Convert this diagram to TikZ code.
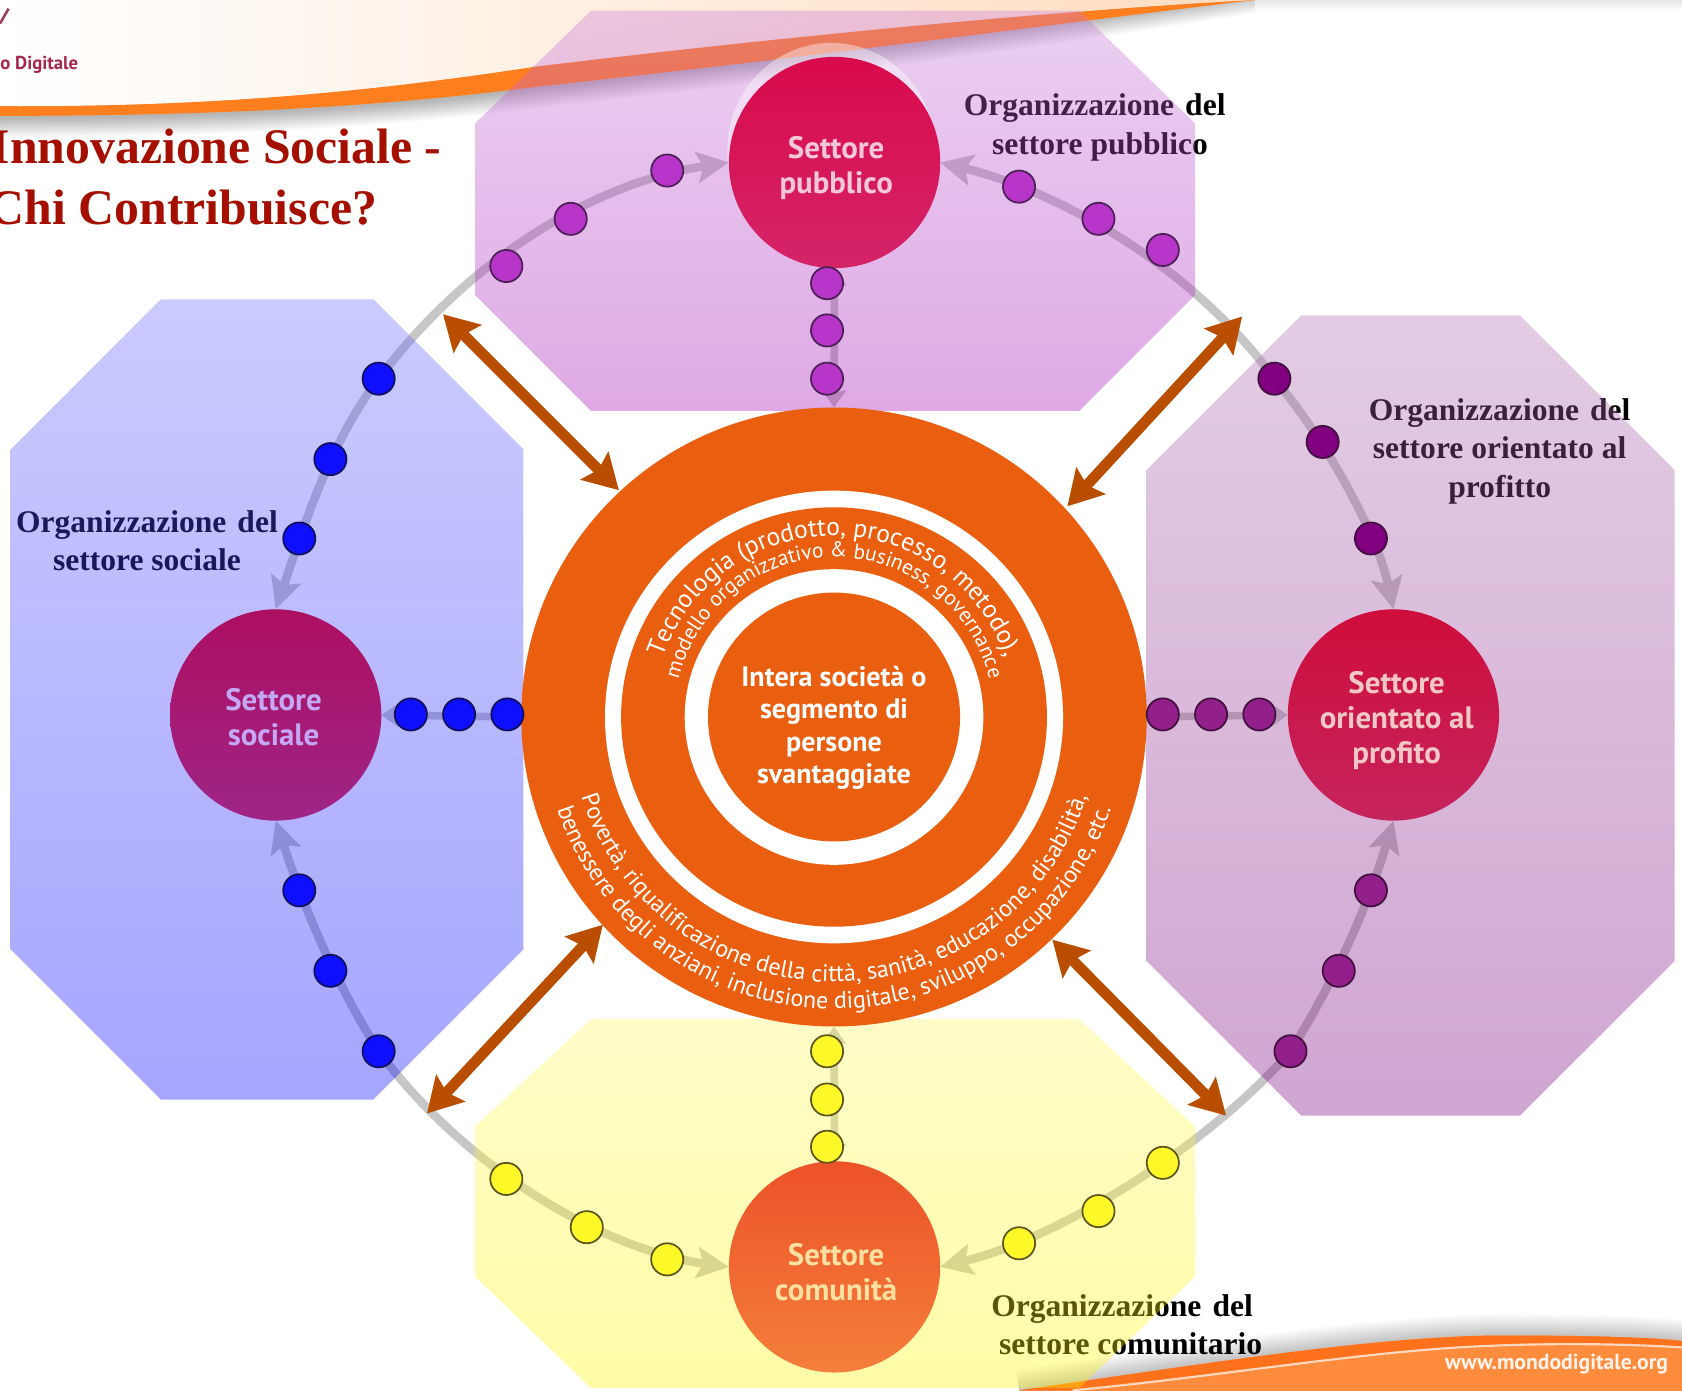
\documentclass[tikz,border=0pt]{standalone}
\usepackage{fontspec}
\setmainfont{Liberation Serif}
\setsansfont{PT Sans}
\usetikzlibrary{arrows.meta,decorations.text,shapes.geometric}
\pgfdeclarelayer{back}
\pgfdeclarelayer{mid}
\pgfsetlayers{back,mid,main}
\definecolor{ringorange}{HTML}{EA5F0F}
\definecolor{swoosh}{HTML}{FF7F1E}
\definecolor{swooshb}{HTML}{FF8C3C}
\definecolor{ringgrey}{HTML}{C6C6C6}
\definecolor{brownarrow}{HTML}{BA4E00}
\definecolor{titlered}{HTML}{A50F00}
\definecolor{peach}{HTML}{FFDCC0}
\definecolor{logotext}{HTML}{A5264E}
\definecolor{puTop}{HTML}{C878D9}\definecolor{puBot}{HTML}{A309B7}
\definecolor{blTop}{HTML}{6A6AFF}\definecolor{blBot}{HTML}{0000FF}
\definecolor{plTop}{HTML}{B16FB1}\definecolor{plBot}{HTML}{78007E}
\definecolor{yeTop}{HTML}{FFF961}\definecolor{yeBot}{HTML}{FFF806}
\definecolor{pubA}{HTML}{D90A4B}\definecolor{pubB}{HTML}{D42468}\definecolor{pubT}{HTML}{F3C7DA}
\definecolor{socA}{HTML}{AD0F60}\definecolor{socB}{HTML}{9E2587}\definecolor{socT}{HTML}{C4A8F5}
\definecolor{proA}{HTML}{CE0D3B}\definecolor{proB}{HTML}{C6245D}\definecolor{proT}{HTML}{F4C7C7}
\definecolor{comA}{HTML}{EC5228}\definecolor{comB}{HTML}{F47F3B}\definecolor{comT}{HTML}{FFE0A0}
\definecolor{dotPu}{HTML}{B735C9}\definecolor{edgePu}{HTML}{4B2155}
\definecolor{dotBl}{HTML}{0F0FFF}\definecolor{edgeBl}{HTML}{10105A}
\definecolor{dotPl}{HTML}{800080}\definecolor{dotPm}{HTML}{93208A}\definecolor{edgePl}{HTML}{40103F}
\definecolor{dotYe}{HTML}{FFF829}\definecolor{edgeYe}{HTML}{5A5520}
\tikzset{
  x=0.5pt,y=-0.5pt,
  octa/.style={fill opacity=.35,draw=none},
  sector/.style={circle,inner sep=0pt,outer sep=0pt,minimum size=98.5pt},
  sectorlabel/.style={inner sep=0pt,align=center,
     font=\sffamily\bfseries\fontsize{14.4}{16.3}\selectfont},
  ringdisc/.style={ellipse,inner sep=0pt,outer sep=0pt},
  dot/.style={circle,inner sep=0pt,outer sep=0pt,minimum size=15pt,line width=.8pt},
  dotpu/.style={dot,fill=dotPu,draw=edgePu},
  dotbl/.style={dot,fill=dotBl,draw=edgeBl},
  dotpl/.style={dot,fill=dotPl,draw=edgePl},
  dotpm/.style={dot,fill=dotPm,draw=edgePl},
  dotye/.style={dot,fill=dotYe,draw=edgeYe},
  ringline/.style={draw=ringgrey,line width=4pt,
     {Stealth[length=15pt,width=14.5pt,inset=3pt]}-{Stealth[length=15pt,width=14.5pt,inset=3pt]}},
  shortline/.style={draw=ringgrey,line width=3.5pt,
     {Stealth[length=8pt,width=11pt,inset=1pt]}-{Stealth[length=8pt,width=11pt,inset=1pt]}},
  bigarrow/.style={draw=brownarrow,line width=5pt,
     {Stealth[length=16pt,width=18pt,inset=2.5pt]}-{Stealth[length=16pt,width=18pt,inset=2.5pt]}},
  orglabel/.style={align=center,inner sep=0pt,font=\bfseries\fontsize{14.7}{18}\selectfont},
  titletext/.style={inner sep=0pt,anchor=base west,text=titlered,font=\bfseries\fontsize{23.2}{26}\selectfont},
}
\newcommand{\lineA}{\sffamily\fontsize{11.95}{13}\selectfont}
\newcommand{\lineB}{\sffamily\fontsize{9.95}{12}\selectfont}
\newcommand{\lineC}{\sffamily\fontsize{11.2}{13}\selectfont}
\newcommand{\orgdel}{Organizzazione \kern1.5pt del}
\begin{document}
\begin{tikzpicture}
\useasboundingbox (0,0) rectangle (1568,1295.8);
% ---- main layer: nodes
\node[ringdisc,fill=ringorange,minimum width=291.5pt,minimum height=288.5pt] (ring) at (777.5,668.4) {};
\node[ringdisc,fill=white,minimum width=213.5pt,minimum height=211pt] (w1) at (ring.center) {};
\node[ringdisc,fill=ringorange,minimum width=198.5pt,minimum height=195.5pt] (o1) at (ring.center) {};
\node[ringdisc,fill=white,minimum width=139.2pt,minimum height=137.8pt] (w2) at (ring.center) {};
\node[ringdisc,fill=ringorange,minimum width=117.5pt,minimum height=116pt] (core) at (ring.center) {};
\node[inner sep=0pt,align=center,text=white,
  font=\sffamily\bfseries\fontsize{13.1}{15}\selectfont] (corelabel) at (777.5,678.5)
  {Intera società o\\segmento di\\persone\\svantaggiate};
\path[decorate,decoration={text along path,text color=white,text align=center,
  text={|\lineA|Tecnologia (prodotto, processo, metodo),}}]
  (ring.center) ++(-169,0) arc[start angle=180,end angle=360,radius=169];
\path[decorate,decoration={text along path,text color=white,text align=center,
  text={|\lineB|modello organizzativo {\&} business, governance}}]
  (ring.center) ++(-149,0) arc[start angle=180,end angle=360,radius=149];
\path[decorate,decoration={text along path,text color=white,text align=center,
  text={|\lineC|Povertà, riqualificazione della città, sanità, educazione, disabilità,}}]
  (ring.center) ++(-247,0) arc[start angle=180,end angle=0,radius=247];
\path[decorate,decoration={text along path,text color=white,text align=center,
  text={|\lineC|benessere degli anziani, inclusione digitale, sviluppo, occupazione, etc.}}]
  (ring.center) ++(-272,0) arc[start angle=180,end angle=0,radius=272];

\node[sector,top color=pubA,bottom color=pubB] (pub) at (778,151.5) {};
\node[sector,top color=socA,bottom color=socB] (soc) at (257,666.5) {};
\node[sector,top color=proA,bottom color=proB] (pro) at (1299,666.5) {};
\node[sector,top color=comA,bottom color=comB] (com) at (778,1181) {};
\node[sectorlabel,text=pubT] (publ) at (779.5,157) {Settore\\pubblico};
\node[sectorlabel,text=socT] (socl) at (255,668.5) {Settore\\sociale};
\node[sectorlabel,text=proT] (prol) at (1302,671.5) {Settore\\orientato al\\profito};
\node[sectorlabel,text=comT] (coml) at (779.5,1186) {Settore\\comunità};

% dots
\node[dotpu] (a1) at (472,248) {};
\node[dotpu] (a2) at (532,204) {};
\node[dotpu] (a3) at (622,159) {};
\node[dotpu] (b1) at (950,174) {};
\node[dotpu] (b2) at (1024,204) {};
\node[dotpu] (b3) at (1084,233) {};
\node[dotpu] (c1) at (771,264) {};
\node[dotpu] (c2) at (771,308) {};
\node[dotpu] (c3) at (771,353) {};
\node[dotbl] (d1) at (353,353) {};
\node[dotbl] (d2) at (308,428) {};
\node[dotbl] (d3) at (279,502) {};
\node[dotbl] (e1) at (279,830) {};
\node[dotbl] (e2) at (308,905) {};
\node[dotbl] (e3) at (353,980) {};
\node[dotbl] (f1) at (383,666) {};
\node[dotbl] (f2) at (428,666) {};
\node[dotbl] (f3) at (473,666) {};
\node[dotpl] (g1) at (1188,353) {};
\node[dotpl] (g2) at (1233,412) {};
\node[dotpl] (g3) at (1278,502) {};
\node[dotpm] (h1) at (1278,830) {};
\node[dotpm] (h2) at (1248,905) {};
\node[dotpm] (h3) at (1203,980) {};
\node[dotpm] (i1) at (1084,666) {};
\node[dotpm] (i2) at (1129,666) {};
\node[dotpm] (i3) at (1174,666) {};
\node[dotye] (j1) at (472,1099) {};
\node[dotye] (j2) at (547,1144) {};
\node[dotye] (j3) at (622,1174) {};
\node[dotye] (k1) at (950,1159) {};
\node[dotye] (k2) at (1024,1129) {};
\node[dotye] (k3) at (1084,1084) {};
\node[dotye] (l1) at (771,980) {};
\node[dotye] (l2) at (771,1025) {};
\node[dotye] (l3) at (771,1069) {};

% big brown arrows
\coordinate (tl) at (413,293);
\coordinate (tr) at (1158,295);
\coordinate (bl) at (398,1038);
\coordinate (br) at (1143,1040);
\coordinate (tlr) at (577,457);
\coordinate (trr) at (995,472);
\coordinate (blr) at (562,862);
\coordinate (brr) at (981,876);
\draw[bigarrow] (tl) -- (tlr);
\draw[bigarrow] (tr) -- (trr);
\draw[bigarrow] (bl) -- (blr);
\draw[bigarrow] (br) -- (brr);

% ---- octagons
\begin{pgfonlayer}{mid}
\shade[octa,top color=puTop,bottom color=puBot]
  (551,10) -- (1006,10) -- (1114,115) -- (1114,275) -- (1006,383) -- (551,383) -- (443,275) -- (443,115) -- cycle;
\shade[octa,top color=blTop,bottom color=blBot]
  (150,279) -- (348,279) -- (488,419) -- (488,885) -- (348,1025) -- (150,1025) -- (10,885) -- (10,419) -- cycle;
\shade[octa,top color=plTop,bottom color=plBot]
  (1213,294) -- (1417,294) -- (1561,438) -- (1561,896) -- (1417,1040) -- (1213,1040) -- (1069,896) -- (1069,438) -- cycle;
\shade[octa,top color=yeTop,bottom color=yeBot]
  (551,950) -- (1006,950) -- (1114,1050) -- (1114,1190) -- (1006,1294) -- (551,1294) -- (443,1190) -- (443,1050) -- cycle;
\fill[white,opacity=.4] (775,140) ellipse [x radius=97,y radius=100];
\end{pgfonlayer}

% ---- back layer: banners, labels, grey connectors
\begin{pgfonlayer}{back}
\fill[white] (0,0) rectangle (1568,1295.8);
% top banner
\foreach \w in {2,3,...,20}{
  \draw[black,opacity=.014,line width=\w pt]
    (0,108) .. controls (200,108) and (350,100) .. (500,81)
    .. controls (800,48) and (1000,20) .. (1170,-8);
}
\shade[left color=white,right color=peach]
  (0,-12) -- (1170,-12) -- (1170,0) .. controls (950,12) and (700,38) .. (500,62)
  .. controls (350,85) and (200,100) .. (0,99) -- cycle;
\fill[swoosh] (0,99) .. controls (200,100) and (350,85) .. (500,62)
  .. controls (700,38) and (950,12) .. (1170,0)
  .. controls (1000,20) and (800,48) .. (500,81)
  .. controls (350,100) and (200,108) .. (0,108) -- cycle;
\shade[top color=black!10,bottom color=white] (1170,0) rectangle (1568,10);
% bottom banner
\foreach \w in {2,3,...,20}{
  \draw[black,opacity=.012,line width=\w pt]
    (950,1296) .. controls (1100,1275) and (1280,1245) .. (1400,1245)
    .. controls (1470,1245) and (1530,1246) .. (1568,1250);
}
\fill[swooshb] (950,1296) .. controls (1100,1275) and (1280,1245) .. (1400,1245)
  .. controls (1470,1245) and (1530,1246) .. (1568,1250) -- (1568,1300) -- (950,1300) -- cycle;
\fill[swoosh!90!red] (950,1296) .. controls (1100,1275) and (1280,1245) .. (1400,1245)
  .. controls (1470,1245) and (1530,1246) .. (1568,1250) -- (1568,1256)
  .. controls (1500,1252) and (1430,1252) .. (1360,1256)
  .. controls (1250,1263) and (1120,1285) .. (1000,1296) -- cycle;
\draw[white,opacity=.7,line width=1pt] (1000,1296) .. controls (1120,1285) and (1250,1263) .. (1360,1256)
  .. controls (1430,1252) and (1500,1252) .. (1568,1256);
\node[inner sep=0pt,text=white,opacity=.9,font=\sffamily\bfseries\fontsize{10.1}{11}\selectfont]
  (web) at (1451,1272) {www.mondodigitale.org};
\draw[logotext!70!gray,line width=1.2pt] (0,22) -- (8,8);
\node[inner sep=0pt,anchor=west,text=logotext,font=\sffamily\bfseries\fontsize{8.7}{10}\selectfont]
  (logo) at (0,60) {o Digitale};
% title
\node[titletext] (t1) at (-9,152) {Innovazione Sociale -};
\node[titletext] (t2) at (-11,209) {Chi Contribuisce?};
% labels
\node[orglabel] (lpub) at (1020.5,118.5) {\orgdel\\\hspace*{5pt}settore pubblico};
\node[orglabel] (lpro) at (1398,420.5) {\orgdel\\settore orientato al\\profitto};
\node[orglabel] (lsoc) at (137,504) {\orgdel\\settore sociale};
\node[orglabel] (lcom) at (1046,1235) {\orgdel\\\hspace*{8pt}settore comunitario};
% ring connectors
\draw[ringline] (soc.north) .. controls (283,492) and (306,415) .. (d1.center)
  .. controls (433,247) and (548,171) .. (pub.west);
\draw[ringline] (pub.east) .. controls (975,175) and (1105,240) .. (g1.center)
  .. controls (1238,413) and (1284,498) .. (pro.north);
\draw[ringline] (pro.south) .. controls (1278,835) and (1250,905) .. (h3.center)
  .. controls (1125,1070) and (985,1155) .. (com.east);
\draw[ringline] (com.west) .. controls (560,1165) and (430,1085) .. (e3.center)
  .. controls (306,905) and (280,835) .. (soc.south);
\draw[shortline] (pub.south) -- (ring.north);
\draw[shortline] (ring.south) -- (com.north);
\draw[shortline] (soc.east) -- (ring.west);
\draw[shortline] (ring.east) -- (pro.west);
\end{pgfonlayer}
\end{tikzpicture}
\end{document}
